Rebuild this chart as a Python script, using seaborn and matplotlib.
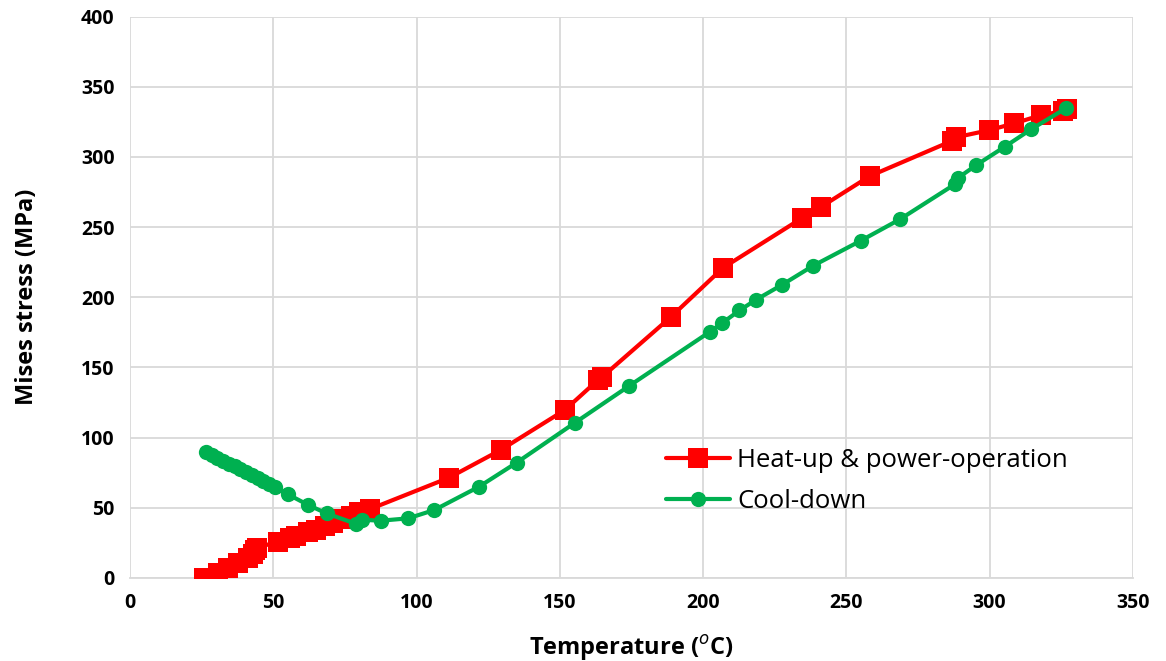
import matplotlib
matplotlib.use("Agg")
import matplotlib.pyplot as plt
import seaborn as sns
import pandas as pd

heat_T = [25.8, 30.8, 34.3, 37.8, 41.3, 42.8, 43.6, 44.2, 51.7, 55.8, 58, 62, 65, 68, 71, 74, 77, 80, 83.7,
          111.3, 129.4, 151.8, 163.3, 164.9, 188.8, 207, 234.4, 241.3, 258.2, 287, 288.4, 299.8, 308.5,
          318.1, 325.5, 327]
heat_S = [0, 3.3, 6.9, 10.5, 14, 17, 20, 21.5, 25.9, 28.5, 30, 32.5, 34.5, 37, 39.5, 42, 44.5, 47, 49,
          71.4, 91.2, 119.7, 141, 143.4, 186, 221, 256.2, 264.5, 286.3, 311.5, 314, 319, 323.8,
          329.8, 332.5, 334]

cool_T = [26.5, 28.5, 30.5, 32.5, 34.5, 36.5, 38.5, 40.5, 42.5, 44.5, 46.5, 48.5, 50.5, 55.2, 62.2,
          68.6, 79.0, 80.8, 87.5, 97.1, 106.2, 121.8, 134.9, 155.3, 174.2, 202.4, 206.8, 212.7, 218.5,
          227.7, 238.4, 255, 268.7, 287.9, 289, 295.4, 305.3, 314.6, 326.6]
cool_S = [90, 87.5, 85.5, 83.5, 81.5, 79.5, 77.5, 75.5, 73.5, 71.5, 69.3, 67, 64.5, 59.5, 52,
          46, 38.5, 41.5, 40.8, 42.5, 48.4, 65, 82.1, 110.6, 136.8, 175.4, 181.8, 190.6, 198.2,
          209, 222.4, 240.2, 255.5, 280.5, 285, 294.2, 307.2, 319.8, 334.5]

x_ticks = [0, 50, 100, 150, 200, 250, 300, 350]
y_ticks = [0, 50, 100, 150, 200, 250, 300, 350, 400]

sns.set_theme(style="white")
plt.rcParams['font.family'] = ['Open Sans', 'DejaVu Sans']

fig = plt.figure(figsize=(11.66, 6.61), dpi=100)
ax = fig.add_axes([0.1115, 0.1256, 0.86, 0.8494])

df_h = pd.DataFrame({"T": heat_T, "S": heat_S})
df_c = pd.DataFrame({"T": cool_T, "S": cool_S})

sns.lineplot(data=df_h, x="T", y="S", sort=False, ax=ax, color="#ff0000", lw=3,
             marker="s", markersize=14, markeredgewidth=0, label="Heat-up & power-operation", zorder=3)
sns.lineplot(data=df_c, x="T", y="S", sort=False, ax=ax, color="#00b050", lw=3,
             marker="o", markersize=11, markeredgewidth=0, label="Cool-down", zorder=4)

ax.set_xlim(0, 350)
ax.set_ylim(0, 400)
ax.set_xticks(x_ticks)
ax.set_yticks(y_ticks)
ax.grid(True, color="#d9d9d9", lw=1.3)
ax.set_axisbelow(True)
for s in ["top", "right", "left"]:
    ax.spines[s].set_visible(False)
ax.spines["bottom"].set_color("#d9d9d9")
ax.spines["bottom"].set_linewidth(1.3)
ax.tick_params(axis="both", length=0, labelsize=14, pad=11, labelcolor="black")
for lab in ax.get_xticklabels() + ax.get_yticklabels():
    lab.set_fontweight("bold")

ax.set_xlabel("Temperature ($^{o}$C)", fontsize=17, fontweight="bold", labelpad=14, color="black")
ax.set_ylabel("Mises stress (MPa)", fontsize=17, fontweight="bold", labelpad=30, color="black")

leg = ax.legend(loc="upper left", bbox_to_anchor=(0.511, 0.272), frameon=False, fontsize=18.5,
                handlelength=2.5, labelspacing=0.6, handletextpad=0.3)
for t in leg.get_texts():
    t.set_color("black")

fig.savefig("out.png", dpi=100)
